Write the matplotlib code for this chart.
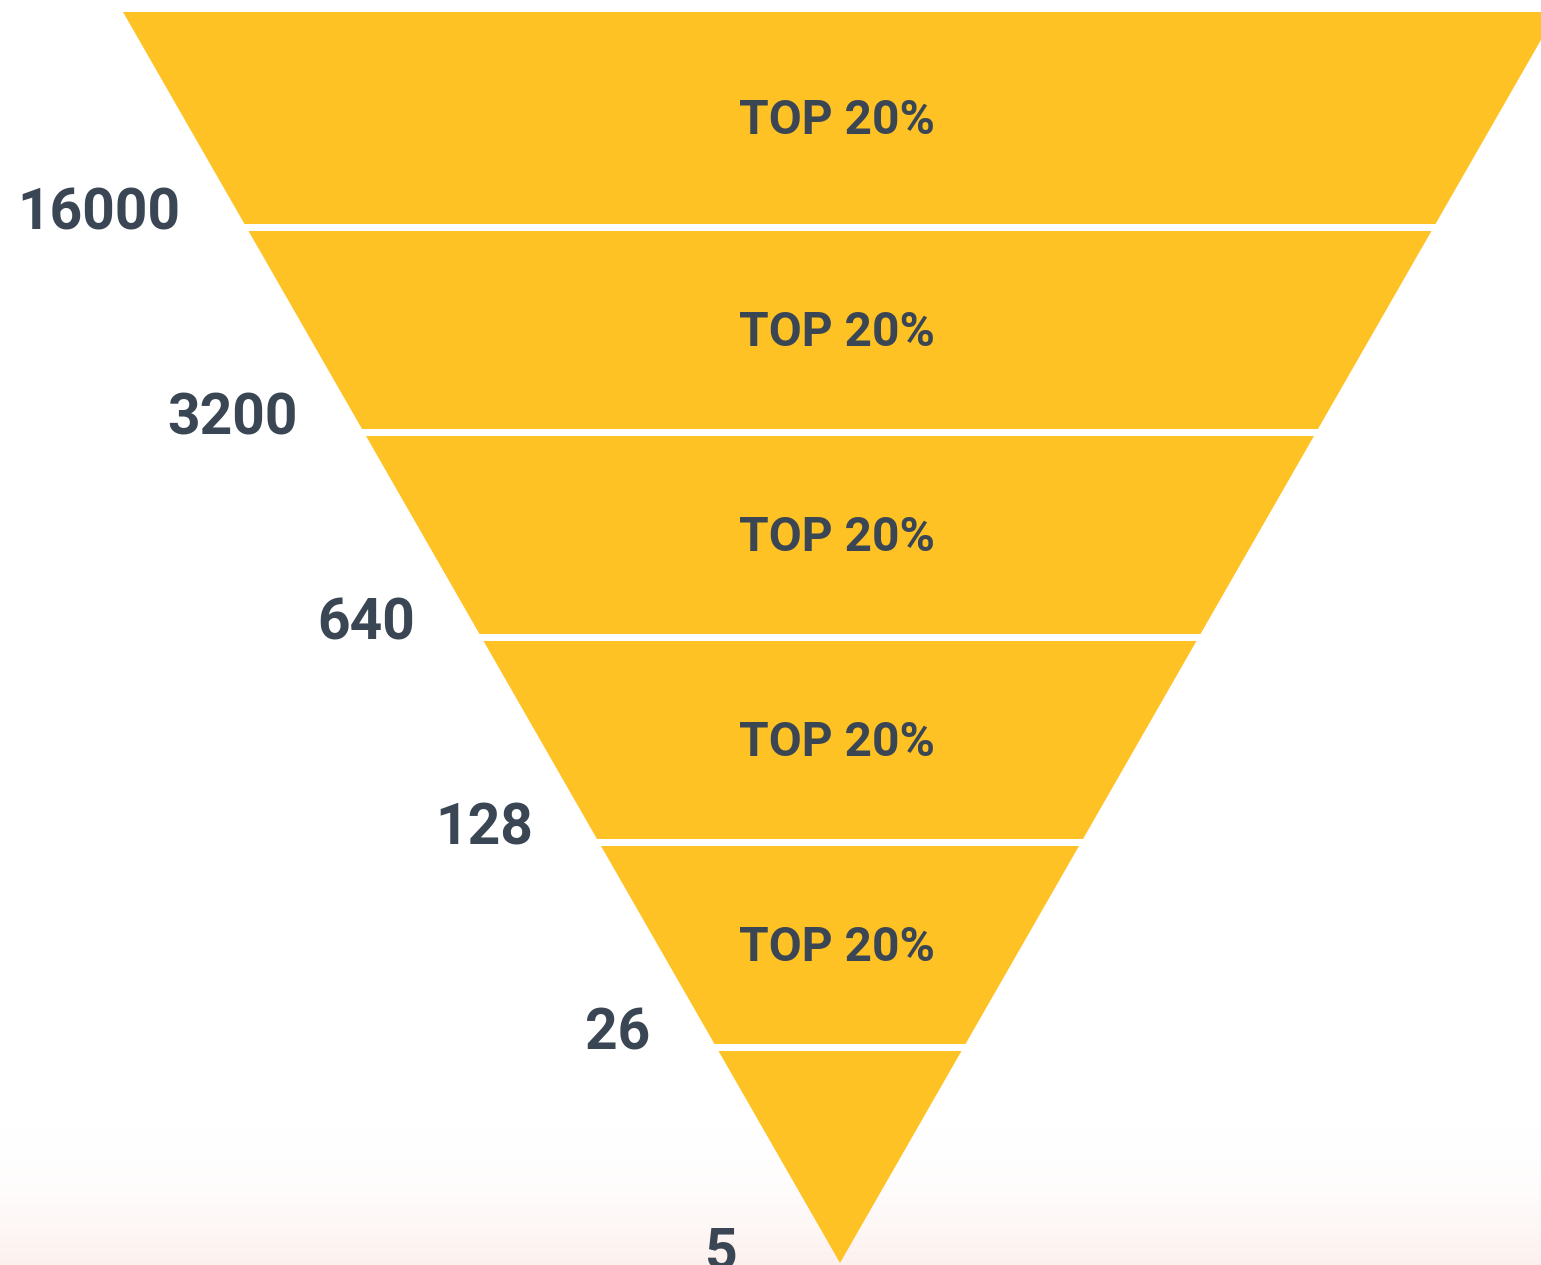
import numpy as np
import matplotlib.pyplot as plt
from matplotlib.patches import Polygon

plt.rcParams['font.family'] = ['Roboto', 'DejaVu Sans']

# funnel stages, top to bottom
counts = [16000, 3200, 640, 128, 26, 5]
band_labels = ['TOP 20%', 'TOP 20%', 'TOP 20%', 'TOP 20%', 'TOP 20%', '']

yellow = '#FEC225'
ink = '#3B4655'

W, H = 1541, 1265
fig = plt.figure(figsize=(W / 100, H / 100), dpi=100)
ax = fig.add_axes([0, 0, 1, 1])
ax.set_xlim(0, W)
ax.set_ylim(H, 0)
ax.axis('off')

# faint pink wash along the bottom
grad = np.linspace(0, 1, 200) ** 2
wash = np.ones((200, 1, 4))
wash[:, 0, 0] = 0.99
wash[:, 0, 1] = 0.93
wash[:, 0, 2] = 0.92
wash[:, 0, 3] = grad * 0.8
ax.imshow(wash, extent=[0, W, H, 1120], aspect='auto', zorder=0)

# funnel layout
cx, top, apex = 840, 12, 1263
half_top = 717
gap = 7
n = len(counts)
first_cut = 227.5   # centre of the first white gap
pitch = 205


def half_width(y):
    return half_top * (apex - y) / (apex - top)


for i, (val, lab) in enumerate(zip(counts, band_labels)):
    y0 = top if i == 0 else first_cut + (i - 1) * pitch + gap / 2
    y1 = apex if i == n - 1 else first_cut + i * pitch - gap / 2
    pts = [(cx - half_width(y0), y0), (cx + half_width(y0), y0),
           (cx + half_width(y1), y1), (cx - half_width(y1), y1)]
    ax.add_patch(Polygon(pts, closed=True, facecolor=yellow, edgecolor='none', zorder=2))
    if lab:
        ax.text(cx - 3, (y0 + y1) / 2 + 3, lab, ha='center', va='center',
                fontsize=34.5, fontweight='bold', color=ink, zorder=3)
    lx = cx - half_width(y1) - 64
    if i == n - 1:
        lx -= 38
    ax.text(lx, y1 - 10, str(val), ha='right', va='center',
            fontsize=41, fontweight='bold', color=ink, zorder=3)

fig.savefig('out.png', dpi=100)
